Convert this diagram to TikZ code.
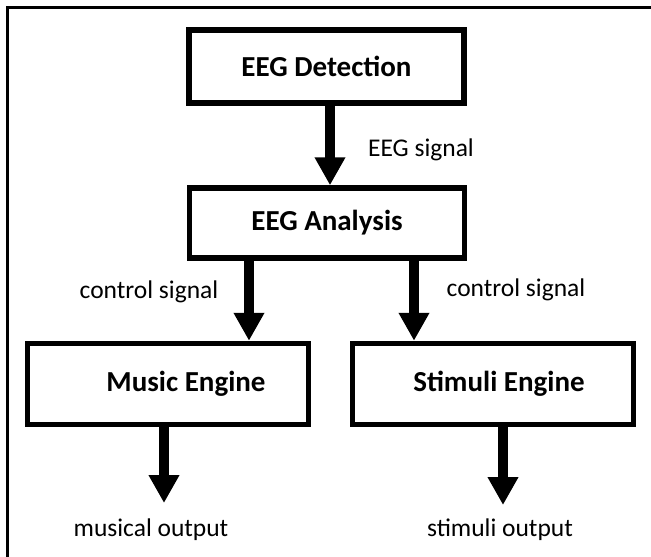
\documentclass[tikz,border=0pt]{standalone}
\usepackage{fontspec}
\setmainfont{Carlito}
\usetikzlibrary{arrows.meta, positioning, calc}

\begin{document}
\begin{tikzpicture}[
    x=1pt, y=-1pt,
    block/.style={rectangle, draw=black, line width=5.5pt, minimum width=275pt, minimum height=73pt, align=center, font=\fontsize{29}{34}\selectfont\bfseries},
    engine/.style={block, minimum width=281pt, minimum height=81pt},
    lbl/.style={font=\fontsize{25.5}{30}\selectfont, inner sep=0pt},
    flow/.style={-{Triangle[width=29pt,length=28pt]}, line width=10pt, black}
]
    \useasboundingbox (0,0) rectangle (651,557);
    \draw[line width=3pt] (7.5,557) -- (7.5,7.5) -- (651,7.5);

    \node[block] (detect) at (326.5,66.5) {EEG Detection};
    \node[block, minimum height=70pt] (analysis) at (327,223) {EEG Analysis};
    \node[engine] (music) at (168,384) {\hspace*{36pt}Music Engine};
    \node[engine] (stimuli) at (493,384) {\hspace*{12pt}Stimuli Engine};

    \node[lbl] (eegsig) at (421,150) {EEG signal};
    \node[lbl] (ctrlleft) at (149,292) {control signal};
    \node[lbl] (ctrlright) at (516,290) {control signal};
    \node[lbl] (musout) at (151,530) {musical output};
    \node[lbl] (stimout) at (500,530) {stimuli output};

    \coordinate (musend) at (164,503);
    \coordinate (stimend) at (503,505);

    \draw[flow] ([xshift=3.5pt]detect.south) -- ([xshift=3pt]analysis.north);
    \draw[flow] ([xshift=-78pt]analysis.south) -- ([xshift=-78pt]analysis.south |- music.north);
    \draw[flow] ([xshift=87pt]analysis.south) -- ([xshift=87pt]analysis.south |- stimuli.north);
    \draw[flow] (music.south -| musend) -- (musend);
    \draw[flow] (stimuli.south -| stimend) -- (stimend);
\end{tikzpicture}
\end{document}
